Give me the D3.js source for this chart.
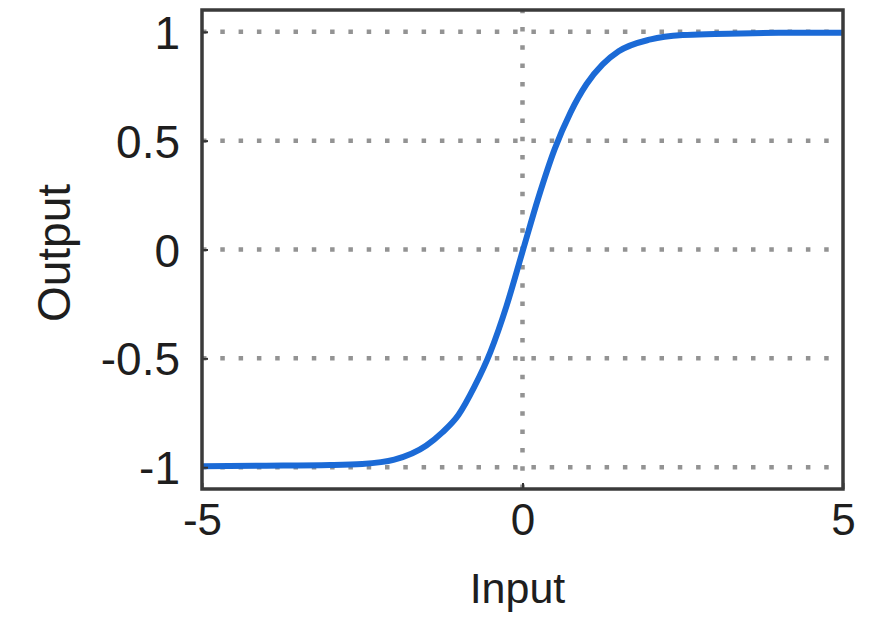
<!DOCTYPE html>
<html>
<head>
<meta charset="utf-8">
<script src="https://cdn.jsdelivr.net/npm/d3@7"></script>
<style>
  body { margin: 0; background: #fff; }
  svg text { font-family: "Liberation Sans", Arial, sans-serif; fill: #1e1e1e; }
</style>
</head>
<body>
<div id="chart"></div>
<script>
// input values sampled along the curve
var inputs = [-5, -4, -3, -2.5, -2, -1.5, -1.25, -1, -0.75, -0.5, -0.25, 0, 0.25, 0.5, 0.75, 1, 1.25, 1.5, 2, 2.5, 3, 4, 5];
// output
var outputs = [-0.995, -0.993, -0.99, -0.985, -0.965, -0.9, -0.84, -0.76, -0.63, -0.47, -0.26, -0.01, 0.24, 0.46, 0.63, 0.76, 0.85, 0.91, 0.965, 0.985, 0.99, 0.995, 0.995];
var xTicks = [-5, 0, 5];
var yTicks = [-1, -0.5, 0, 0.5, 1];
var xLabel = "Input";
var yLabel = "Output";

var width = 872, height = 618;
var margin = { top: 10, right: 29, bottom: 131, left: 202 };

var svg = d3.select("#chart").append("svg")
  .attr("width", width)
  .attr("height", height);

var x = d3.scaleLinear()
  .domain([-5, 5])
  .range([margin.left, width - margin.right]);

var y = d3.scaleLinear()
  .domain([-1.1, 1.1])
  .range([height - margin.bottom + 2, margin.top]);

// dotted grid
var grid = svg.append("g").attr("stroke", "#939393").attr("stroke-width", 4.5)
  .attr("stroke-dasharray", "4.5,13.8");
grid.selectAll("line.h")
  .data(yTicks)
  .join("line")
  .attr("x1", x(-5)).attr("x2", x(5))
  .attr("y1", d => y(d)).attr("y2", d => y(d));
grid.selectAll("line.v")
  .data([0])
  .join("line")
  .attr("x1", d => x(d)).attr("x2", d => x(d))
  .attr("y1", y(-1.1)).attr("y2", y(1.1));

// curve
var line = d3.line()
  .x((d, i) => x(inputs[i]))
  .y(d => y(d))
  .curve(d3.curveMonotoneX);

svg.append("path")
  .datum(outputs)
  .attr("fill", "none")
  .attr("stroke", "#1b6ad6")
  .attr("stroke-width", 6)
  .attr("d", line);

// axes (ticks inside the box)
svg.append("g")
  .attr("transform", `translate(0, ${y(-1.1)})`)
  .call(d3.axisBottom(x).tickValues(xTicks).tickSizeInner(-6).tickSizeOuter(0).tickPadding(14).tickFormat(d => d))
  .call(g => g.select(".domain").remove())
  .call(g => g.selectAll("line").attr("stroke", "#333").attr("stroke-width", 2))
  .call(g => g.selectAll("text").attr("font-size", 44).attr("dy", "0.72em"));

svg.append("g")
  .attr("transform", `translate(${x(-5)}, 0)`)
  .call(d3.axisLeft(y).tickValues(yTicks).tickSizeInner(-6).tickSizeOuter(0).tickPadding(22).tickFormat(d => d))
  .call(g => g.select(".domain").remove())
  .call(g => g.selectAll("line").attr("stroke", "#333").attr("stroke-width", 2))
  .call(g => g.selectAll("text").attr("font-size", 46).attr("dy", "0.36em"));

// box
svg.append("rect")
  .attr("x", x(-5)).attr("y", y(1.1))
  .attr("width", x(5) - x(-5))
  .attr("height", y(-1.1) - y(1.1))
  .attr("fill", "none")
  .attr("stroke", "#3a3a3a")
  .attr("stroke-width", 3.5);

svg.append("text")
  .attr("x", (x(-5) + x(5)) / 2 - 5)
  .attr("y", 603)
  .attr("text-anchor", "middle")
  .attr("font-size", 43)
  .text(xLabel);

svg.append("text")
  .attr("transform", `translate(70, 253) rotate(-90)`)
  .attr("text-anchor", "middle")
  .attr("font-size", 46)
  .text(yLabel);
</script>
</body>
</html>
